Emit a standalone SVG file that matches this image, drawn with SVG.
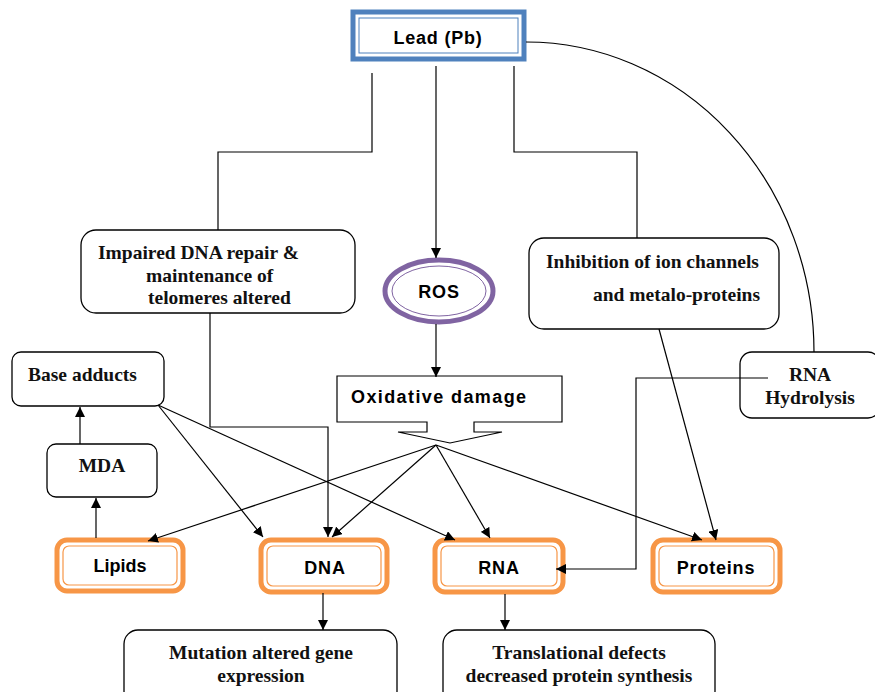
<svg xmlns="http://www.w3.org/2000/svg" width="875" height="692" viewBox="0 0 875 692">
<style>
.box{fill:#fff;stroke:#000;stroke-width:1.3}
.ob{fill:#fff;stroke:#F79646;stroke-width:5}
.oi{fill:none;stroke:#F79646;stroke-width:1.2}
.tn{font-family:"Liberation Serif","Times New Roman",serif;font-weight:bold;font-size:19.5px;fill:#111}
.ta{font-family:"Liberation Sans",Arial,sans-serif;font-weight:bold;font-size:18px;letter-spacing:0.8px;fill:#000}
.ln{fill:none;stroke:#000;stroke-width:1.2}
.ar{fill:none;stroke:#000;stroke-width:1.2;marker-end:url(#ah)}
</style>
<defs>
<marker id="ah" viewBox="0 0 10 10" refX="10" refY="5" markerWidth="10" markerHeight="10" markerUnits="userSpaceOnUse" orient="auto">
<path d="M0,0 L10,5 L0,10 Z" fill="#000"/>
</marker>
</defs>
<rect width="875" height="692" fill="#fff"/>

<g id="lead">
<rect x="353" y="12" width="171" height="47" fill="#fff" stroke="#4F81BD" stroke-width="5"/>
<rect x="359" y="18" width="159" height="35" fill="none" stroke="#4F81BD" stroke-width="1"/>
<text class="ta" x="438" y="44" text-anchor="middle">Lead (Pb)</text>
</g>

<g id="impaired">
<rect class="box" x="81" y="230" width="274" height="83" rx="15"/>
<text class="tn" x="98" y="259">Impaired DNA repair &amp;</text>
<text class="tn" x="146" y="282">maintenance of</text>
<text class="tn" x="148" y="304">telomeres altered</text>
</g>

<g id="ros">
<ellipse cx="439" cy="291" rx="54" ry="31" fill="#fff" stroke="#8064A2" stroke-width="5"/>
<ellipse cx="439" cy="291" rx="47" ry="25" fill="none" stroke="#8064A2" stroke-width="1"/>
<text class="ta" x="439" y="298" text-anchor="middle">ROS</text>
</g>

<g id="inhibition">
<rect class="box" x="529" y="238" width="250" height="91" rx="15"/>
<text class="tn" x="546" y="268">Inhibition of ion channels</text>
<text class="tn" x="593" y="301">and metalo-proteins</text>
</g>

<g id="oxidative">
<path d="M337,376 H562 V422 H474 V432 H502 L450,443 L398,432 H427 V422 H337 Z" fill="#fff" stroke="#000" stroke-width="1.2"/>
<text class="ta" x="351" y="403" style="letter-spacing:1.4px">Oxidative damage</text>
</g>

<g id="base-adducts">
<rect class="box" x="12" y="352" width="152" height="54" rx="9"/>
<text class="tn" x="28" y="381">Base adducts</text>
</g>

<g id="mda">
<rect class="box" x="47" y="444" width="110" height="53" rx="9"/>
<text class="tn" x="102" y="472" text-anchor="middle">MDA</text>
</g>

<g id="rna-hydrolysis">
<rect class="box" x="740" y="352" width="140" height="66" rx="12"/>
<text class="tn" x="810" y="381" text-anchor="middle">RNA</text>
<text class="tn" x="810" y="404" text-anchor="middle">Hydrolysis</text>
</g>

<g id="lipids">
<rect class="ob" x="57" y="540" width="126" height="51" rx="10"/>
<rect class="oi" x="63" y="546" width="114" height="39" rx="6"/>
<text class="ta" x="120" y="572" text-anchor="middle" style="letter-spacing:0">Lipids</text>
</g>

<g id="dna">
<rect class="ob" x="261" y="540" width="126" height="52" rx="10"/>
<rect class="oi" x="267" y="546" width="114" height="40" rx="6"/>
<text class="ta" x="325" y="574" text-anchor="middle">DNA</text>
</g>

<g id="rna">
<rect class="ob" x="435" y="540" width="128" height="52" rx="10"/>
<rect class="oi" x="441" y="546" width="116" height="40" rx="6"/>
<text class="ta" x="499" y="574" text-anchor="middle">RNA</text>
</g>

<g id="proteins">
<rect class="ob" x="653" y="540" width="127" height="52" rx="10"/>
<rect class="oi" x="659" y="546" width="115" height="40" rx="6"/>
<text class="ta" x="716" y="574" text-anchor="middle">Proteins</text>
</g>

<g id="mutation">
<rect class="box" x="124" y="630" width="273" height="75" rx="14"/>
<text class="tn" x="261" y="659" text-anchor="middle">Mutation altered gene</text>
<text class="tn" x="261" y="682" text-anchor="middle">expression</text>
</g>

<g id="translational">
<rect class="box" x="443" y="630" width="272" height="75" rx="14"/>
<text class="tn" x="579" y="659" text-anchor="middle">Translational defects</text>
<text class="tn" x="579" y="682" text-anchor="middle">decreased protein synthesis</text>
</g>

<g id="connectors">
<polyline class="ln" points="372,73 372,152 218,152 218,230"/>
<line class="ar" x1="436" y1="66" x2="436" y2="258"/>
<polyline class="ln" points="514,66 514,152 637,152 637,238"/>
<path class="ln" d="M526,42 A288,310 0 0 1 814,352"/>
<line class="ar" x1="436" y1="324" x2="436" y2="377"/>
<polyline class="ar" points="210,313 210,427 328,427 328,537"/>
<line class="ar" x1="436" y1="445" x2="148" y2="541"/>
<line class="ar" x1="436" y1="445" x2="332" y2="537"/>
<line class="ar" x1="436" y1="445" x2="490" y2="538"/>
<line class="ar" x1="436" y1="445" x2="702" y2="540"/>
<line class="ar" x1="158" y1="405" x2="263" y2="537"/>
<line class="ar" x1="158" y1="405" x2="455" y2="540"/>
<line class="ar" x1="80" y1="444" x2="80" y2="407"/>
<line class="ar" x1="96" y1="538" x2="96" y2="498"/>
<line class="ar" x1="659" y1="329" x2="716" y2="540"/>
<polyline class="ar" points="768,378 636,378 636,569 556,569"/>
<line class="ar" x1="323" y1="593" x2="323" y2="630"/>
<line class="ar" x1="505" y1="594" x2="505" y2="630"/>
</g>
</svg>
